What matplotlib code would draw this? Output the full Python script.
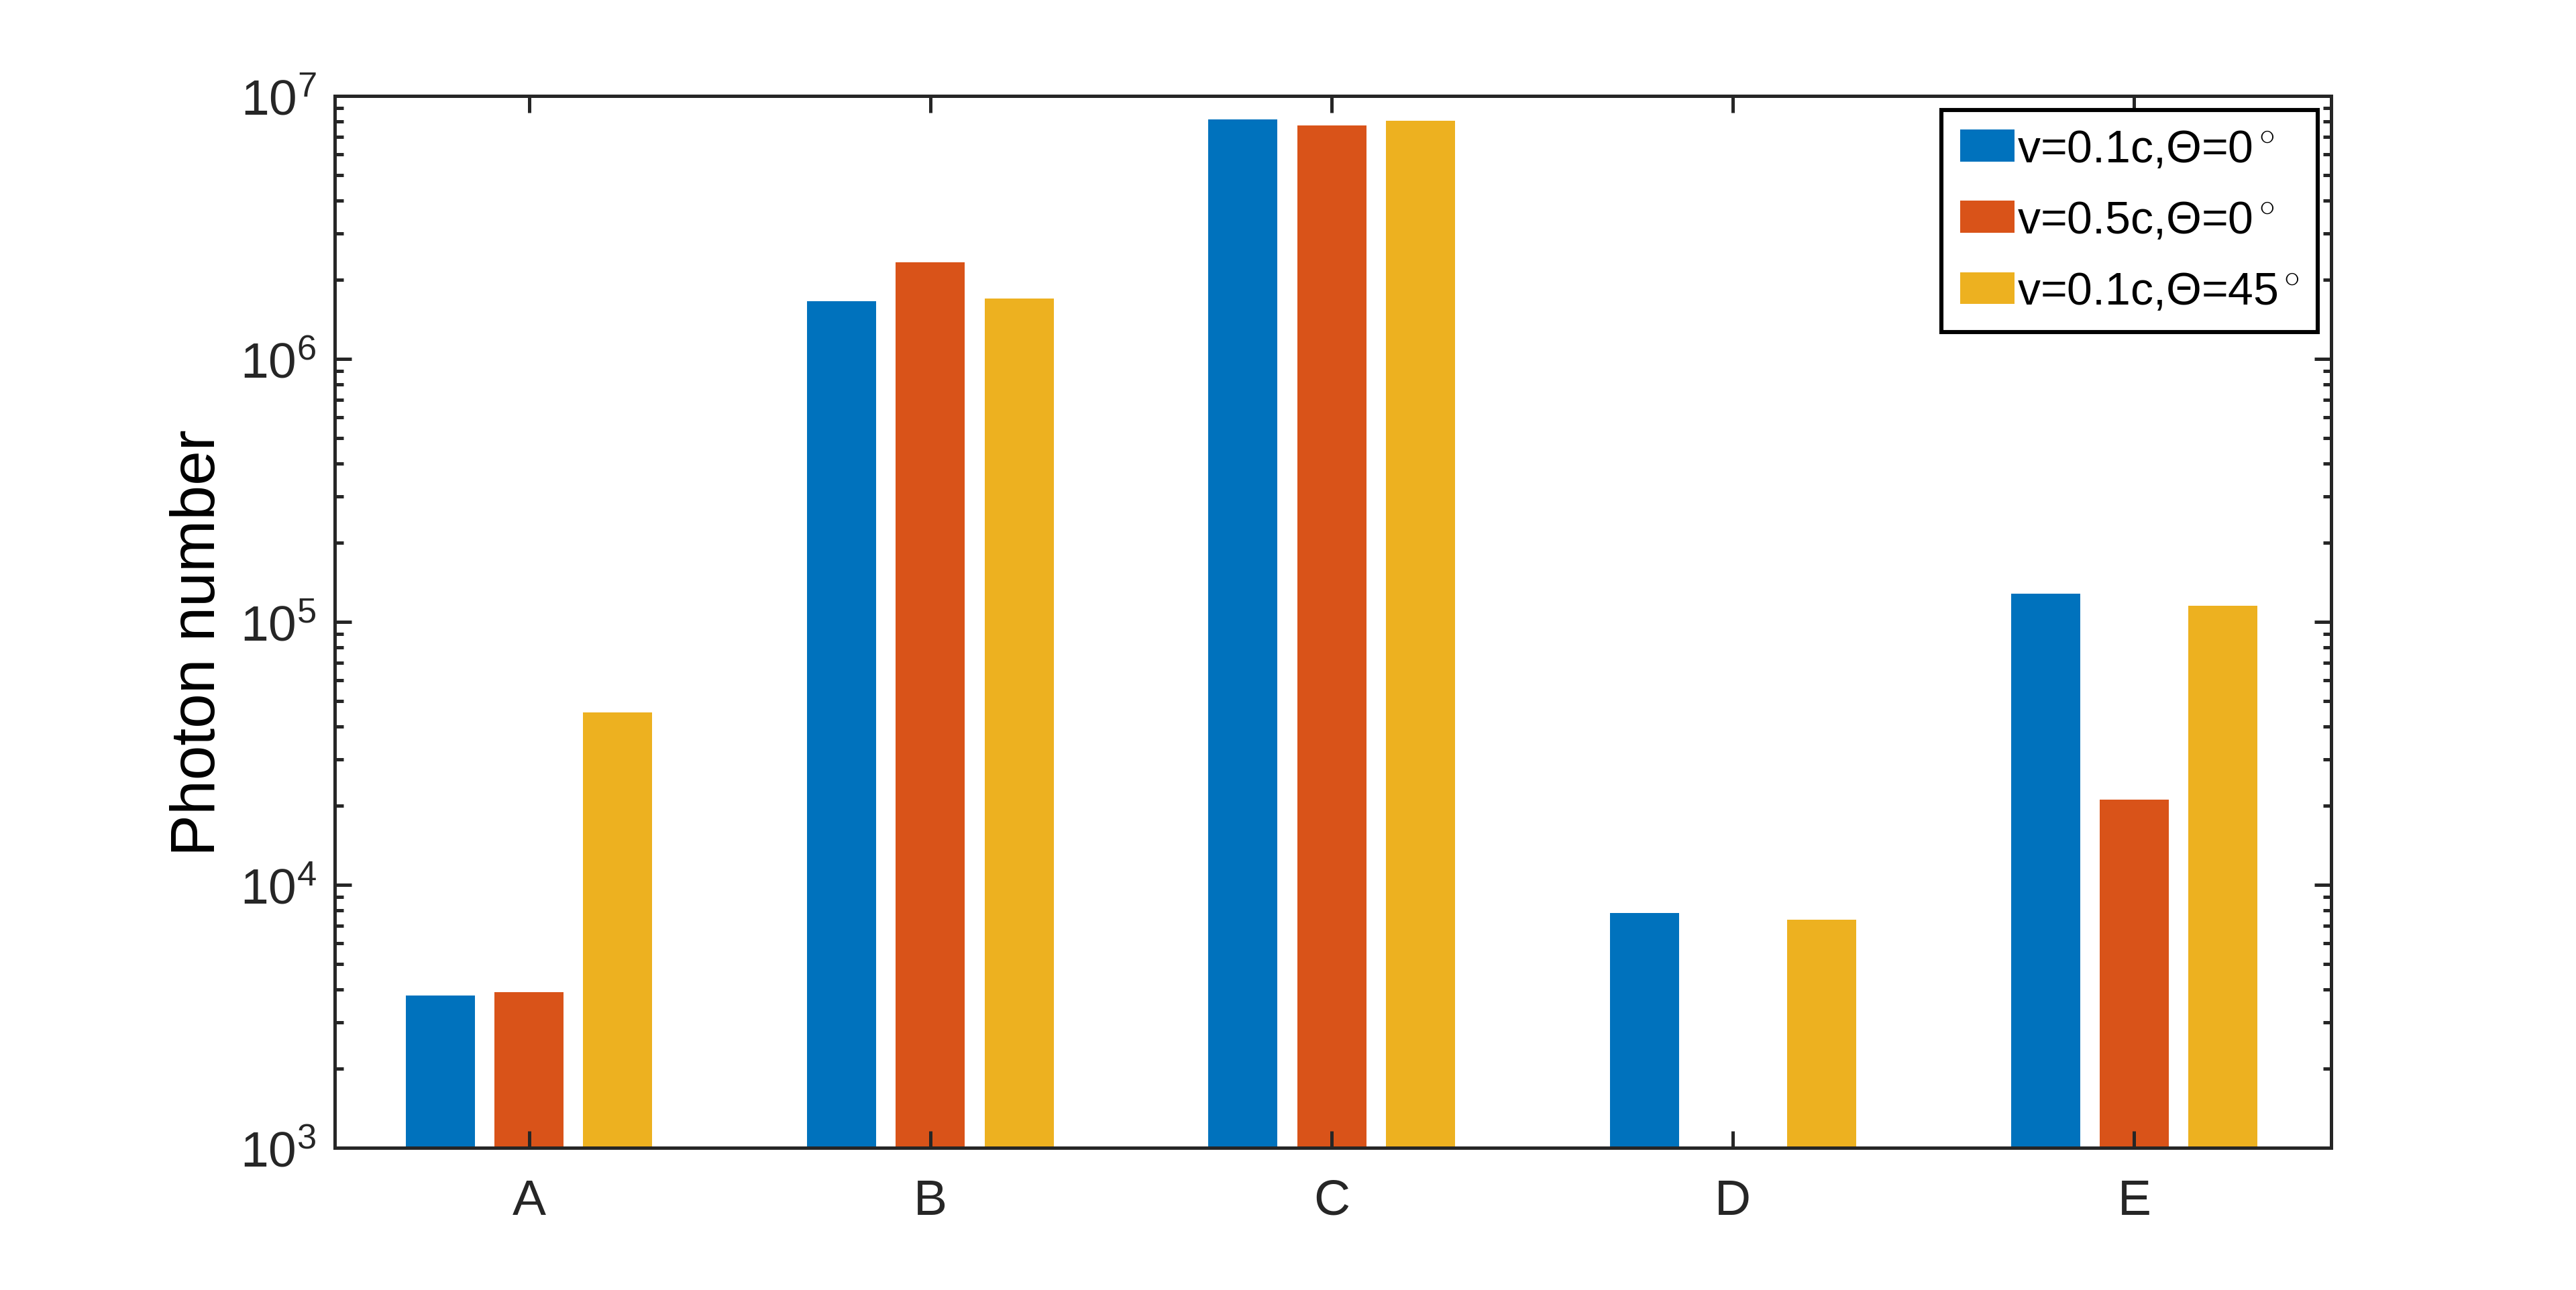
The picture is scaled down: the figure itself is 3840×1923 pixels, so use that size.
import matplotlib.pyplot as plt
import numpy as np
from matplotlib.ticker import LogLocator, NullFormatter

plt.rcParams['font.family'] = ['Liberation Sans', 'DejaVu Sans']
plt.rcParams['mathtext.fontset'] = 'custom'
plt.rcParams['mathtext.rm'] = 'Liberation Sans'
plt.rcParams['mathtext.it'] = 'Liberation Sans:italic'
plt.rcParams['mathtext.bf'] = 'Liberation Sans:bold'

# data
categories = ['A', 'B', 'C', 'D', 'E']
v01_t0 = [3810, 1.66e6, 8.18e6, 7830, 1.28e5]
v05_t0 = [3925, 2.34e6, 7.72e6, np.nan, 2.11e4]
v01_t45 = [45300, 1.70e6, 8.06e6, 7390, 1.155e5]
labels = [r'v=0.1c,$\Theta$=0$^\circ$', r'v=0.5c,$\Theta$=0$^\circ$', r'v=0.1c,$\Theta$=45$^\circ$']
colors = ['#0072BD', '#D95319', '#EDB120']

fig = plt.figure(figsize=(19.2, 9.62), dpi=200)
ax = fig.add_axes([0.13, 0.11, 0.775, 0.815])

x = np.arange(1, len(categories) + 1)
width = 0.172
offset = 0.221
for i, (vals, lab, c) in enumerate(zip([v01_t0, v05_t0, v01_t45], labels, colors)):
    ax.bar(x + (i - 1) * offset, vals, width, color=c, label=lab)

ax.set_yscale('log')
ax.set_ylim(1e3, 1e7)
ax.set_xlim(0.516, 5.491)
ax.set_xticks(x)
ax.set_xticklabels(categories)
ax.yaxis.set_major_locator(LogLocator(base=10, numticks=10))
ax.yaxis.set_minor_locator(LogLocator(base=10, subs=np.arange(2, 10), numticks=20))
ax.yaxis.set_minor_formatter(NullFormatter())

edge = '#262626'
for s in ax.spines.values():
    s.set_linewidth(1.8)
    s.set_color(edge)
ax.tick_params(which='both', direction='in', top=True, right=True, colors=edge,
               labelcolor=edge, width=1.8)
ax.tick_params(which='major', length=9, labelsize=27, pad=10)
ax.tick_params(axis='x', which='major', pad=16)
ax.tick_params(which='minor', length=4.5)
ax.tick_params(axis='x', which='minor', top=False, bottom=False)

ax.set_ylabel('Photon number', fontsize=33.5, color='black')
ax.yaxis.set_label_coords(-0.054, 0.481)

leg = ax.legend(loc='upper right', fontsize=24.5, frameon=True, fancybox=False,
                edgecolor='black', handlelength=1.2, handleheight=0.7,
                handletextpad=0.05, labelspacing=0.62, borderaxespad=0.3,
                borderpad=0.4)
leg.get_frame().set_linewidth(2.2)
leg.get_frame().set_alpha(1)

fig.savefig('out.png', dpi=200, facecolor='white')
